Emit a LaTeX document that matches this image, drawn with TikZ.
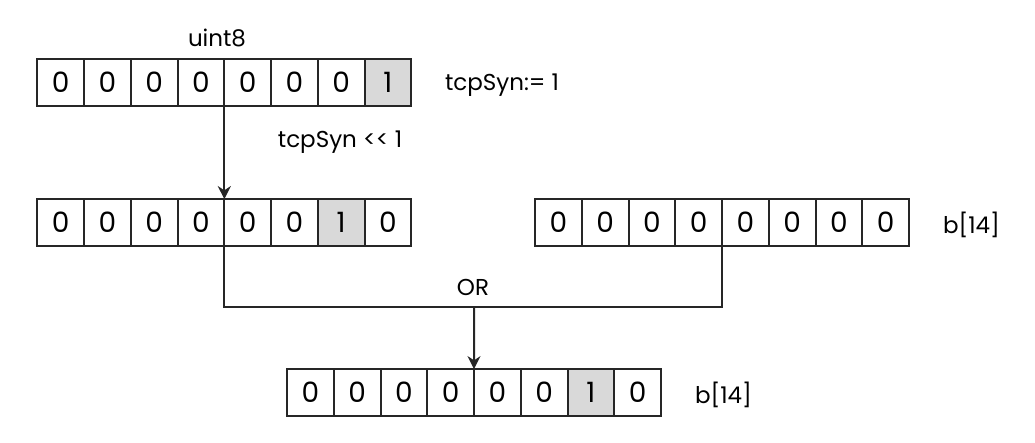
\documentclass[tikz,border=0pt]{standalone}
\usepackage{fontspec}
\setmainfont{Poppins}
\usetikzlibrary{arrows.meta,positioning}

\tikzset{
  bit/.style={draw=black!85, line width=1pt, minimum width=23.375pt, minimum height=23.4pt,
    inner sep=0pt, outer sep=0pt, font=\fontsize{14}{16}\selectfont},
  setbit/.style={bit, fill=gray!30},
  lbl/.style={inner sep=0pt, font=\fontsize{11.5}{13}\selectfont},
  arr/.style={-{Stealth[length=6.5pt,width=6.5pt]}}
}

\begin{document}
\begin{tikzpicture}[x=0.5pt, y=-0.5pt, line width=1pt, draw=black!85]
  \useasboundingbox (0,0) rectangle (1035,443);

  % uint8 value
  \node[bit] at (60.7,82.6) (t1) {0};
  \node[bit, right=0pt of t1] (t2) {0};
  \node[bit, right=0pt of t2] (t3) {0};
  \node[bit, right=0pt of t3] (t4) {0};
  \node[bit, right=0pt of t4] (t5) {0};
  \node[bit, right=0pt of t5] (t6) {0};
  \node[bit, right=0pt of t6] (t7) {0};
  \node[setbit, right=0pt of t7] (t8) {1};

  % shifted value
  \node[bit] at (60.7,222.5) (l1) {0};
  \node[bit, right=0pt of l1] (l2) {0};
  \node[bit, right=0pt of l2] (l3) {0};
  \node[bit, right=0pt of l3] (l4) {0};
  \node[bit, right=0pt of l4] (l5) {0};
  \node[bit, right=0pt of l5] (l6) {0};
  \node[setbit, right=0pt of l6] (l7) {1};
  \node[bit, right=0pt of l7] (l8) {0};

  % b[14] before
  \node[bit] at (558.4,222.5) (r1) {0};
  \node[bit, right=0pt of r1] (r2) {0};
  \node[bit, right=0pt of r2] (r3) {0};
  \node[bit, right=0pt of r3] (r4) {0};
  \node[bit, right=0pt of r4] (r5) {0};
  \node[bit, right=0pt of r5] (r6) {0};
  \node[bit, right=0pt of r6] (r7) {0};
  \node[bit, right=0pt of r7] (r8) {0};

  % b[14] after
  \node[bit] at (310.4,392.5) (o1) {0};
  \node[bit, right=0pt of o1] (o2) {0};
  \node[bit, right=0pt of o2] (o3) {0};
  \node[bit, right=0pt of o3] (o4) {0};
  \node[bit, right=0pt of o4] (o5) {0};
  \node[bit, right=0pt of o5] (o6) {0};
  \node[setbit, right=0pt of o6] (o7) {1};
  \node[bit, right=0pt of o7] (o8) {0};

  \node[lbl] at (217,38) (type) {uint8};
  \node[lbl, anchor=west] at (444,85) (init) {tcpSyn:= 1};
  \node[lbl] at (340,142) (shift) {tcpSyn <\kern0pt< 1};
  \node[lbl, anchor=west] at (942,225) (bold) {b[14]};
  \node[lbl, anchor=west] at (694,395) (bnew) {b[14]};
  \node[lbl] at (473,287) (or) {OR};

  \coordinate (join) at (474,307);

  \draw[arr] (t4.south east) -- (l4.north east);
  \draw (l4.south east) |- (join) -| (r4.south east);
  \draw[arr] (join) -- (o4.north east);
\end{tikzpicture}
\end{document}
